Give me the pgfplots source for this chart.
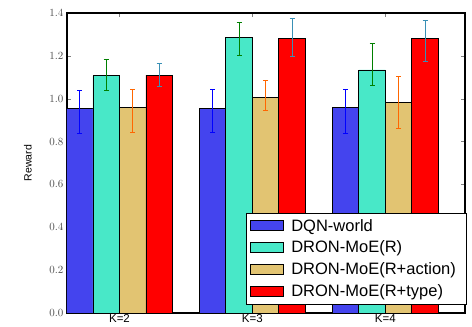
\documentclass[border=0pt]{standalone}
\usepackage{pgfplots}
\pgfplotsset{compat=1.18}
\usepackage{fontspec}
\setmainfont{Liberation Sans}
\definecolor{cblue}{RGB}{68,68,238}
\definecolor{cteal}{RGB}{72,232,200}
\definecolor{ctan}{RGB}{226,196,114}
\definecolor{cred}{RGB}{255,0,0}
\begin{document}
\begin{tikzpicture}
\begin{axis}[name=ax, scale only axis, width=398pt, height=300pt,
  xmin=-0.395, xmax=2.6, ymin=0, ymax=1.4,
  ybar=0pt, bar width=26.5pt,
  xtick={0,1,2}, xticklabels={K=2,K=3,K=4},
  ytick={0,0.2,...,1.4},
  yticklabel style={/pgf/number format/fixed, /pgf/number format/fixed zerofill, /pgf/number format/precision=1, color=black!70, font=\fontsize{11}{12}\selectfont},
  xticklabel style={font=\fontsize{11.5}{12}\selectfont, yshift=2pt},
  tick align=inside, xtick pos=both, ytick pos=both, major tick length=4pt,
  axis line style={line width=1.2pt},
  ylabel={Reward},
  ylabel style={at={(axis description cs:-0.098,0.5)}, anchor=center, font=\fontsize{10.5}{12}\selectfont},
  every axis plot/.append style={draw=black, line width=0.9pt},
  legend style={at={(1.006,0.027)}, anchor=south east, draw=black, line width=1pt,
    font=\fontsize{16.5}{19}\selectfont, row sep=4.5pt, inner sep=4pt, cells={anchor=west},
    nodes={inner xsep=7pt}},
  legend image code/.code={\draw[#1] (0pt,-5pt) rectangle (33pt,5pt);},
]
\addplot[fill=cblue, error bars/.cd, y dir=both, y explicit,
  error bar style={color=blue, line width=0.7pt}, error mark options={rotate=90, mark size=2.5pt, color=blue, line width=0.7pt}]
  coordinates {(0,0.955) += (0,0.085) -= (0,0.115) (1,0.955) += (0,0.09) -= (0,0.11) (2,0.957) += (0,0.088) -= (0,0.117)};
\addplot[fill=cteal, error bars/.cd, y dir=both, y explicit,
  error bar style={color=green!50!black, line width=0.7pt}, error mark options={rotate=90, mark size=2.5pt, color=green!50!black, line width=0.7pt}]
  coordinates {(0,1.107) += (0,0.077) -= (0,0.07) (1,1.285) += (0,0.072) -= (0,0.081) (2,1.134) += (0,0.124) -= (0,0.073)};
\addplot[fill=ctan, error bars/.cd, y dir=both, y explicit,
  error bar style={color=orange!80!red, line width=0.7pt}, error mark options={rotate=90, mark size=2.5pt, color=orange!80!red, line width=0.7pt}]
  coordinates {(0,0.96) += (0,0.085) -= (0,0.115) (1,1.006) += (0,0.081) -= (0,0.062) (2,0.983) += (0,0.12) -= (0,0.121)};
\addplot[fill=cred, error bars/.cd, y dir=both, y explicit,
  error bar style={color=cyan!70!black, line width=0.7pt}, error mark options={rotate=90, mark size=2.5pt, color=cyan!70!black, line width=0.7pt}]
  coordinates {(0,1.11) += (0,0.055) -= (0,0.05) (1,1.282) += (0,0.093) -= (0,0.082) (2,1.282) += (0,0.085) -= (0,0.109)};
\legend{DQN-world, DRON-MoE(R), DRON-MoE(R+action), DRON-MoE(R+type)}
\end{axis}
\pgfresetboundingbox
\path ([shift={(-67pt,-14pt)}]ax.south west) rectangle ([shift={(7pt,13pt)}]ax.north east);
\end{tikzpicture}
\end{document}
